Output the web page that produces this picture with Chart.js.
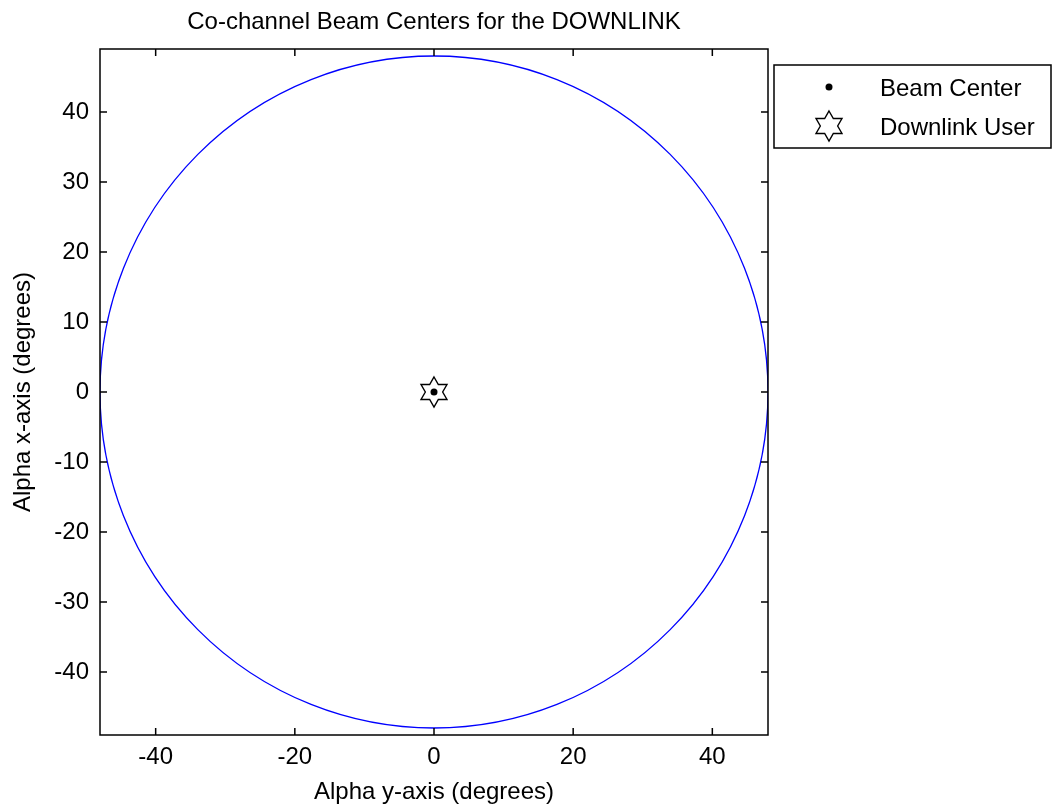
<!DOCTYPE html>
<html>
<head>
<meta charset="utf-8">
<title>Co-channel Beam Centers for the DOWNLINK</title>
<script src="https://cdn.jsdelivr.net/npm/chart.js@4/dist/chart.umd.min.js"></script>
<style>
  html, body { margin: 0; padding: 0; background: #fff; }
</style>
</head>
<body>
<canvas id="beamChart" width="1052" height="808"></canvas>
<script>
// beam centre and downlink user positions (degrees)
const beamCenterX = [0];
const beamCenterY = [0];
const userX = [0];
const userY = [0];

// coverage edge: circle around the beam centre, radius in degrees
const coverageCenter = [0, 0];
const coverageRadius = [48];

// axis limits and tick values
const xLimits = [-48, 48];
const yLimits = [-49, 49];
const xTicks = [-40, -20, 0, 20, 40];
const yTicks = [-40, -30, -20, -10, 0, 10, 20, 30, 40];

const FONT = "'Liberation Sans', Arial, Helvetica, sans-serif";
const textFont = { family: FONT, size: 24, weight: 'normal', lineHeight: 1.2 };

// six-pointed star marker (outline only)
function hexagram(R, lw) {
  const size = 2 * Math.ceil(R + lw + 1);
  const c = document.createElement('canvas');
  c.width = size;
  c.height = size;
  const g = c.getContext('2d');
  const cx = size / 2, cy = size / 2, r = R / Math.sqrt(3);
  g.beginPath();
  for (let k = 0; k < 12; k++) {
    const a = -Math.PI / 2 + k * Math.PI / 6;
    const rad = k % 2 === 0 ? R : r;
    g.lineTo(cx + rad * Math.cos(a), cy + rad * Math.sin(a));
  }
  g.closePath();
  g.lineWidth = lw;
  g.strokeStyle = '#000';
  g.stroke();
  return c;
}
const starImg = hexagram(15, 1.4);

// blue coverage circle, clipped to the axes box
const coveragePlugin = {
  id: 'coverage',
  beforeDatasetsDraw(chart) {
    const { ctx, chartArea: a, scales: { x, y } } = chart;
    const cx = x.getPixelForValue(coverageCenter[0]);
    const cy = y.getPixelForValue(coverageCenter[1]);
    const rx = Math.abs(x.getPixelForValue(coverageCenter[0] + coverageRadius[0]) - cx);
    const ry = Math.abs(y.getPixelForValue(coverageCenter[1] + coverageRadius[0]) - cy);
    ctx.save();
    ctx.beginPath();
    ctx.rect(a.left, a.top, a.width, a.height);
    ctx.clip();
    ctx.beginPath();
    ctx.ellipse(cx, cy, rx, ry, 0, 0, 2 * Math.PI);
    ctx.strokeStyle = '#0000ff';
    ctx.lineWidth = 1.3;
    ctx.stroke();
    ctx.restore();
  }
};

// axes box with inward ticks on all four sides
const framePlugin = {
  id: 'frame',
  afterDatasetsDraw(chart) {
    const { ctx, chartArea: a, scales: { x, y } } = chart;
    const t = 7;
    ctx.save();
    ctx.strokeStyle = '#000';
    ctx.lineWidth = 1.5;
    ctx.strokeRect(a.left, a.top, a.width, a.height);
    ctx.beginPath();
    x.ticks.forEach(tk => {
      const px = x.getPixelForValue(tk.value);
      ctx.moveTo(px, a.bottom); ctx.lineTo(px, a.bottom - t);
      ctx.moveTo(px, a.top); ctx.lineTo(px, a.top + t);
    });
    y.ticks.forEach(tk => {
      const py = y.getPixelForValue(tk.value);
      ctx.moveTo(a.left, py); ctx.lineTo(a.left + t, py);
      ctx.moveTo(a.right, py); ctx.lineTo(a.right - t, py);
    });
    ctx.stroke();
    ctx.restore();
  }
};

// boxed legend to the right of the axes
const boxLegendPlugin = {
  id: 'boxLegend',
  afterDraw(chart, args, opts) {
    const { ctx } = chart;
    ctx.save();
    ctx.strokeStyle = '#000';
    ctx.lineWidth = 1.5;
    ctx.strokeRect(opts.left, opts.top, opts.width, opts.height);
    chart.data.datasets.forEach((ds, i) => {
      const cy = opts.top + opts.firstRow + i * opts.rowGap;
      ctx.fillStyle = ds.backgroundColor;
      ctx.strokeStyle = ds.borderColor;
      ctx.lineWidth = ds.borderWidth || 0;
      Chart.helpers.drawPoint(ctx, {
        pointStyle: ds.pointStyle, radius: ds.pointRadius, rotation: 0, borderWidth: ds.borderWidth || 0
      }, opts.left + opts.markerX, cy);
      ctx.fillStyle = '#000';
      ctx.font = textFont.size + 'px ' + FONT;
      ctx.textAlign = 'left';
      ctx.textBaseline = 'middle';
      ctx.fillText(ds.label, opts.left + opts.textX, cy + 2);
    });
    ctx.restore();
  }
};

new Chart(document.getElementById('beamChart'), {
  type: 'scatter',
  data: {
    datasets: [
      {
        label: 'Beam Center',
        data: beamCenterX.map((v, i) => ({ x: v, y: beamCenterY[i] })),
        pointStyle: 'circle',
        pointRadius: 3.5,
        backgroundColor: '#000',
        borderColor: '#000',
        borderWidth: 0
      },
      {
        label: 'Downlink User',
        data: userX.map((v, i) => ({ x: v, y: userY[i] })),
        pointStyle: starImg,
        pointRadius: 15,
        backgroundColor: 'rgba(0,0,0,0)',
        borderColor: '#000',
        borderWidth: 0
      }
    ]
  },
  options: {
    responsive: false,
    animation: false,
    events: [],
    layout: { padding: { top: 0, right: 284, left: 0, bottom: 0 } },
    plugins: {
      legend: { display: false },
      tooltip: { enabled: false },
      title: {
        display: true,
        text: 'Co-channel Beam Centers for the DOWNLINK',
        fullSize: false,
        color: '#000',
        font: textFont,
        padding: { top: 8, bottom: 12.2 }
      },
      boxLegend: { left: 774, top: 65, width: 277, height: 83, firstRow: 22, rowGap: 39, markerX: 55, textX: 106 }
    },
    scales: {
      x: {
        type: 'linear',
        min: xLimits[0],
        max: xLimits[1],
        afterBuildTicks: s => { s.ticks = xTicks.map(v => ({ value: v })); },
        afterFit: s => { s.height = 73; },
        grid: { display: false, drawTicks: false },
        border: { display: false },
        ticks: { color: '#000', font: textFont, padding: 8, maxRotation: 0, autoSkip: false },
        title: { display: true, text: 'Alpha y-axis (degrees)', color: '#000', font: textFont, padding: { top: 0, bottom: 1 } }
      },
      y: {
        type: 'linear',
        min: yLimits[0],
        max: yLimits[1],
        afterBuildTicks: s => { s.ticks = yTicks.map(v => ({ value: v })); },
        afterFit: s => { s.width = 100; },
        grid: { display: false, drawTicks: false },
        border: { display: false },
        ticks: { color: '#000', font: textFont, padding: 11, autoSkip: false },
        title: { display: true, text: 'Alpha x-axis (degrees)', color: '#000', font: textFont, padding: { top: 9, bottom: 0 } }
      }
    }
  },
  plugins: [coveragePlugin, framePlugin, boxLegendPlugin]
});
</script>
</body>
</html>
